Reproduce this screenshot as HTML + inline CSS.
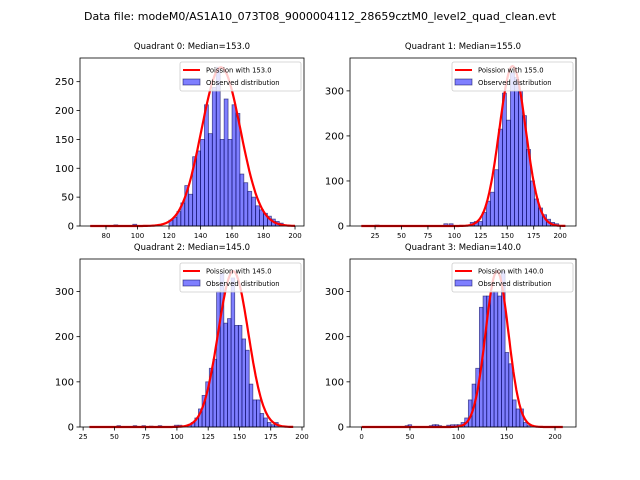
<!DOCTYPE html>
<html><head><meta charset="utf-8"><style>body{margin:0;background:#fff}svg{display:block;font-family:"DejaVu Sans","Liberation Sans",sans-serif}</style></head>
<body>
<svg id="fig" width="640" height="480" viewBox="0 0 640 480">
<text x="320" y="20" text-anchor="middle" font-size="11">Data file: modeM0/AS1A10_073T08_9000004112_28659cztM0_level2_quad_clean.evt</text>
</svg>
<script>
// Quadrant 0
const q0Start = 120, q0Width = 2.5;
const q0Counts = [10,15,25,40,70,55,120,130,150,210,160,240,275,150,220,150,210,195,90,75,60,50,35,28,22,17,12,8,5];
const q0BlipX = [85,97], q0BlipY = [2,3];
const q0XTicks = [80,100,120,140,160,180,200];
const q0YTicks = [0,50,100,150,200,250];
// Quadrant 1
const q1Start = 115, q1Width = 3.8;
const q1Counts = [8,10,10,30,55,75,125,215,295,235,340,330,300,245,170,100,60,40,25,15,8,5];
const q1BlipX = [25,90,95], q1BlipY = [2,5,5];
const q1XTicks = [25,50,75,100,125,150,175,200];
const q1YTicks = [0,100,200,300];
// Quadrant 2
const q2Start = 108.5, q2Width = 2.9;
const q2Counts = [5,10,20,40,70,100,130,150,300,340,230,240,330,225,225,195,170,95,60,60,30,20,10,5,10];
const q2BlipX = [52,65,72,78,85,98,101], q2BlipY = [3,3,3,2,3,4,4];
const q2XTicks = [25,50,75,100,125,150,175,200];
const q2YTicks = [0,100,200,300];
// Quadrant 3
const q3Start = 99, q3Width = 3.8;
const q3Counts = [5,10,20,60,95,130,265,290,290,300,300,290,345,165,140,60,40,40,10,3];
const q3BlipX = [45,48,70,73,76,79,88,92,96], q3BlipY = [3,5,3,5,5,3,4,5,5];
const q3XTicks = [0,50,100,150,200];
const q3YTicks = [0,100,200,300];
// Poisson fits
const lambdas = [153,155,145,140];
const peaks = [275,355,345,345];
const curveMin = [70,12,30,0];
const curveMax = [200,205,193,208];
const medians = ["153.0","155.0","145.0","140.0"];

const NS="http://www.w3.org/2000/svg";
const svg=document.getElementById('fig');
function mk(tag,attrs,parent){const e=document.createElementNS(NS,tag);for(const k in attrs)e.setAttribute(k,attrs[k]);(parent||svg).appendChild(e);return e;}

const panels=[
 {L:80,R:304,T:58,B:226,x0:63.5,x1:205.7,ymax:291,start:q0Start,w:q0Width,counts:q0Counts,bx:q0BlipX,by:q0BlipY,xt:q0XTicks,yt:q0YTicks,xfs:7},
 {L:350,R:576,T:58,B:226,x0:1.3,x1:215,ymax:373,start:q1Start,w:q1Width,counts:q1Counts,bx:q1BlipX,by:q1BlipY,xt:q1XTicks,yt:q1YTicks,xfs:7},
 {L:80,R:304,T:259,B:427,x0:22.5,x1:201.6,ymax:372,start:q2Start,w:q2Width,counts:q2Counts,bx:q2BlipX,by:q2BlipY,xt:q2XTicks,yt:q2YTicks,xfs:7},
 {L:350,R:576,T:259,B:427,x0:-12,x1:221.7,ymax:372,start:q3Start,w:q3Width,counts:q3Counts,bx:q3BlipX,by:q3BlipY,xt:q3XTicks,yt:q3YTicks,xfs:7}
];

panels.forEach((p,i)=>{
 const g=mk('g',{});
 
 
 const sx=v=>p.L+(v-p.x0)/(p.x1-p.x0)*(p.R-p.L);
 const sy=v=>p.B-v/p.ymax*(p.B-p.T);
 const t=mk('text',{x:(p.L+p.R)/2,y:p.T-9,'text-anchor':'middle','font-size':'8.5'},g);
 t.textContent='Quadrant '+i+': Median='+medians[i];
 
 
 const drawBar=(x,w,c)=>{const r=mk('rect',{x:sx(x),y:sy(c),width:sx(x+w)-sx(x),height:sy(0)-sy(c),fill:'rgba(0,0,255,0.5)',stroke:'rgba(0,0,80,0.6)','stroke-width':'0.8'},g);
  
  };
 p.counts.forEach((c,k)=>drawBar(p.start+k*p.w,p.w,c));
 p.bx.forEach((x,k)=>drawBar(x,p.w,p.by[k]));
 const lam=lambdas[i],sd=Math.sqrt(lam);let d='';
 for(let x=curveMin[i];x<=curveMax[i];x+=1){const y=peaks[i]*Math.exp(-0.5*((x-lam)/sd)**2);d+=(d?'L':'M')+sx(x).toFixed(1)+','+sy(y).toFixed(1);}
 const pl=mk('path',{d:d,fill:'none',stroke:'#ff0000','stroke-width':'2.2'},g);
 
 
 const f=mk('rect',{x:p.L,y:p.T,width:p.R-p.L,height:p.B-p.T,fill:'none',stroke:'#000','stroke-width':'0.8'},g);
 
 
 p.xt.forEach(v=>{const x=sx(v);mk('line',{x1:x,x2:x,y1:p.B,y2:p.B+3.5,stroke:'#000','stroke-width':'0.8'},g);
  const tt=mk('text',{x:x,y:p.B+12,'text-anchor':'middle','font-size':p.xfs},g);tt.textContent=v;
  
  });
 p.yt.forEach(v=>{const y=sy(v);mk('line',{x1:p.L-3.5,x2:p.L,y1:y,y2:y,stroke:'#000','stroke-width':'0.8'},g);
  const tt=mk('text',{x:p.L-6,y:y+3.5,'text-anchor':'end','font-size':'10'},g);tt.textContent=v;
  
  });
 const lg=mk('g',{},g);
 
 
 const lx=p.R-124,ly=p.T+4;
 mk('rect',{x:lx,y:ly,width:121,height:29,fill:'rgba(255,255,255,0.8)',stroke:'#ccc','stroke-width':'0.8',rx:2},lg);
 mk('line',{x1:lx+3,x2:lx+20,y1:ly+8,y2:ly+8,stroke:'#f00','stroke-width':'2'},lg);
 const t1=mk('text',{x:lx+26,y:ly+10.5,'font-size':'6.8'},lg);t1.textContent='Poission with '+lambdas[i].toFixed(1);
 mk('rect',{x:lx+3,y:ly+17,width:17,height:6,fill:'rgba(0,0,255,0.5)',stroke:'rgba(0,0,80,0.6)','stroke-width':'0.8'},lg);
 const t2=mk('text',{x:lx+26,y:ly+23,'font-size':'6.8'},lg);t2.textContent='Observed distribution';
});
</script>
</body></html>
